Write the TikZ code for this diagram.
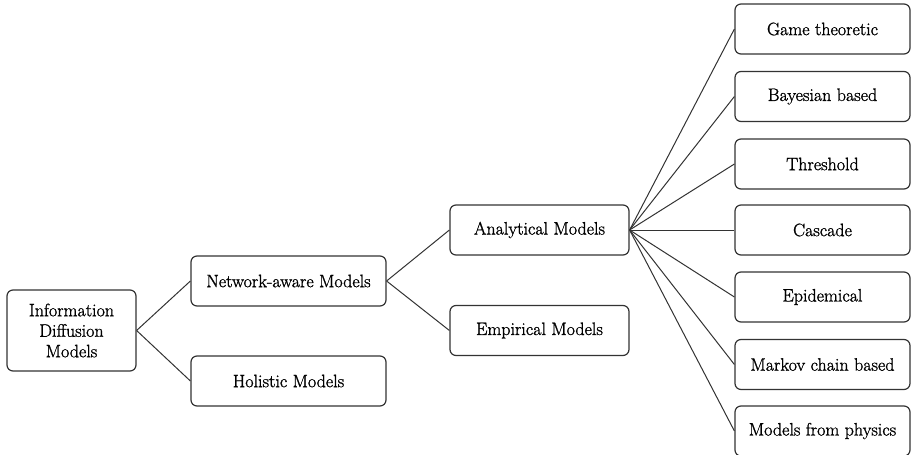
\documentclass[tikz,border=0pt]{standalone}
\usepackage{fontspec}
\newfontfamily\heavy{Latin Modern Roman}[FakeBold=1.2]
\begin{document}
\begin{tikzpicture}[x=1pt,y=-1pt,
  box/.style={draw=black!80, line width=1.2pt, rounded corners=6pt, minimum height=50pt, align=center, inner sep=2pt, font=\heavy\fontsize{18}{20.5}\selectfont},
  link/.style={draw=black!80, line width=1pt}]
\useasboundingbox (0,0) rectangle (913,455);
\node[box, minimum width=129pt, minimum height=81pt] (info) at (71.5,330.5) {Information\\Diffusion\\Models};
\node[box, minimum width=195pt] (net) at (288.5,281) {Network-aware Models};
\node[box, minimum width=195pt] (hol) at (288.5,381) {Holistic Models};
\node[box, minimum width=179pt] (ana) at (539.5,230) {Analytical Models};
\node[box, minimum width=179pt] (emp) at (539.5,330.5) {Empirical Models};
\node[box, minimum width=175pt] (g1) at (822.5,29) {Game theoretic};
\node[box, minimum width=175pt] (g2) at (822.5,96.5) {Bayesian based};
\node[box, minimum width=175pt] (g3) at (822.5,164) {Threshold};
\node[box, minimum width=175pt] (g4) at (822.5,230) {Cascade};
\node[box, minimum width=175pt] (g5) at (822.5,297) {Epidemical};
\node[box, minimum width=175pt] (g6) at (822.5,364.5) {Markov chain based};
\node[box, minimum width=175pt] (g7) at (822.5,431) {Models from physics};
\draw[link] (info.east) -- (net.west);
\draw[link] (info.east) -- (hol.west);
\draw[link] (net.east) -- (ana.west);
\draw[link] (net.east) -- (emp.west);
\foreach \n in {g1,g2,g3,g4,g5,g6,g7}{\draw[link] (ana.east) -- (\n.west);}
\end{tikzpicture}
\end{document}
